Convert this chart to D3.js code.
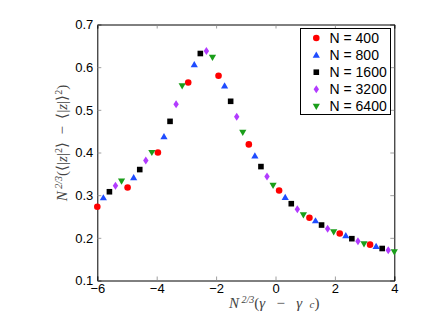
<!DOCTYPE html>
<html><head><meta charset="utf-8">
<script src="https://cdn.jsdelivr.net/npm/d3@7"></script>
<style>
html,body{margin:0;padding:0;background:#fff;}
svg{display:block;}
text{white-space:pre;}
</style></head>
<body>
<svg id="c" width="436" height="328"></svg>
<script>
const seriesNames = ["N = 400","N = 800","N = 1600","N = 3200","N = 6400"];
const seriesColors = ["#ff0000","#1f4cff","#000000","#b23bff","#1a9e1a"];
const seriesShapes = ["circle","triUp","square","diamond","triDown"];

const x400  = [-6.000,-4.980,-3.959,-2.939,-1.918,-0.898,0.122,1.143,2.163,3.184];
const y400  = [0.273,0.318,0.400,0.564,0.580,0.419,0.311,0.247,0.210,0.184];
const x800  = [-5.796,-4.776,-3.755,-2.735,-1.714,-0.694,0.327,1.347,2.367,3.388];
const y800  = [0.294,0.341,0.437,0.606,0.556,0.392,0.295,0.240,0.205,0.180];
const x1600 = [-5.592,-4.571,-3.551,-2.531,-1.510,-0.490,0.531,1.551,2.571,3.592];
const y1600 = [0.308,0.360,0.473,0.632,0.520,0.367,0.280,0.230,0.198,0.175];
const x3200 = [-5.388,-4.367,-3.347,-2.327,-1.306,-0.286,0.735,1.755,2.776,3.796];
const y3200 = [0.322,0.381,0.513,0.638,0.484,0.344,0.267,0.221,0.192,0.171];
const x6400 = [-5.184,-4.163,-3.143,-2.122,-1.102,-0.082,0.939,1.959,2.980,4.000];
const y6400 = [0.333,0.400,0.556,0.623,0.447,0.323,0.254,0.214,0.186,0.167];

const xTicks = [-6,-4,-2,0,2,4];
const yTicks = [0.1,0.2,0.3,0.4,0.5,0.6,0.7];

const seriesX = [x400,x800,x1600,x3200,x6400];
const seriesY = [y400,y800,y1600,y3200,y6400];

const svg = d3.select("#c");
const L = 97.3, R = 394.3, T = 24.5, B = 280.5;
const x = d3.scaleLinear().domain([-6,4]).range([L,R]);
const y = d3.scaleLinear().domain([0.1,0.7]).range([B,T]);

function shapePath(s){
  switch(s){
    case "circle": return d3.symbol(d3.symbolCircle,34)();
    case "square": return "M-2.8,-2.8H2.8V2.8H-2.8Z";
    case "triUp": return "M0,-3.6L3.6,2.6L-3.6,2.6Z";
    case "triDown": return "M0,3.6L3.6,-2.6L-3.6,-2.6Z";
    case "diamond": return "M0,-4L2.7,0L0,4L-2.7,0Z";
  }
}

const tickFont = "'Liberation Sans', Arial, Helvetica, sans-serif";

const xAxB = d3.axisBottom(x).tickValues(xTicks).tickSize(-4).tickPadding(3).tickFormat(d=>d<0?"\u2212"+Math.abs(d):d);
const xAxT = d3.axisTop(x).tickValues(xTicks).tickSize(-4).tickFormat("");
const yAxL = d3.axisLeft(y).tickValues(yTicks).tickSize(-4).tickPadding(4).tickFormat(d3.format(".1f"));
const yAxR = d3.axisRight(y).tickValues(yTicks).tickSize(-4).tickFormat("");

function style(g){
  g.select(".domain").attr("stroke","#000").attr("stroke-width",1);
  g.selectAll(".tick line").attr("stroke","#888").attr("stroke-width",0.8);
  g.selectAll("text").attr("font-family",tickFont).attr("font-size",13).attr("fill","#000");
}
svg.append("g").attr("transform",`translate(0,${B})`).call(xAxB).call(style);
svg.append("g").attr("transform",`translate(0,${T})`).call(xAxT).call(style);
svg.append("g").attr("transform",`translate(${L},0)`).call(yAxL).call(style);
svg.append("g").attr("transform",`translate(${R},0)`).call(yAxR).call(style);

seriesNames.forEach((nm,i)=>{
  const pts = seriesX[i].map((v,j)=>[v,seriesY[i][j]]);
  svg.append("g").selectAll("path").data(pts).join("path")
    .attr("d",shapePath(seriesShapes[i]))
    .attr("transform",d=>`translate(${x(d[0])},${y(d[1])})`)
    .attr("fill",seriesColors[i]);
});

const lg = svg.append("g");
lg.append("rect").attr("x",300.5).attr("y",28.5).attr("width",90).attr("height",86)
  .attr("fill","#fff").attr("stroke","#000").attr("stroke-width",1);
seriesNames.forEach((nm,i)=>{
  const yy = 38 + i*17.1;
  lg.append("path").attr("d",shapePath(seriesShapes[i])).attr("transform",`translate(316.3,${yy})`).attr("fill",seriesColors[i]);
  lg.append("text").attr("x",329.5).attr("y",yy+5).attr("font-family",tickFont).attr("font-size",14).text(nm);
});

const serif = "'Liberation Serif','Times New Roman',serif";
const NB = "\u00A0";
const xl = svg.append("text").attr("x",229).attr("y",308).attr("font-family",serif).attr("font-size",15).attr("fill","#444");
xl.append("tspan").attr("font-style","italic").text("N");
xl.append("tspan").attr("font-size",10).attr("dy",-5).attr("font-style","italic").text(NB+"2/3");
xl.append("tspan").attr("dy",5).text("(");
xl.append("tspan").attr("font-style","italic").text("γ");
xl.append("tspan").text(NB+NB+NB+"\u2212"+NB+NB+NB);
xl.append("tspan").attr("font-style","italic").text("γ"+NB+NB);
xl.append("tspan").attr("font-size",11).attr("font-style","italic").text("c");
xl.append("tspan").text(")");

const yl = svg.append("text").attr("transform","translate(67,143) rotate(-90)").attr("text-anchor","middle")
  .attr("font-family",serif).attr("font-size",15).attr("fill","#444");
yl.append("tspan").attr("font-style","italic").text("N");
yl.append("tspan").attr("font-size",10).attr("dy",-5).attr("font-style","italic").text(NB+"2/3");
yl.append("tspan").attr("dy",5).text("(\u27E8|");
yl.append("tspan").attr("font-style","italic").text("z");
yl.append("tspan").text("|");
yl.append("tspan").attr("font-size",10).attr("dy",-5).text("2");
yl.append("tspan").attr("dy",5).text("\u27E9"+NB+NB+"\u2212"+NB+NB+"\u27E8|");
yl.append("tspan").attr("font-style","italic").text("z");
yl.append("tspan").text("|\u27E9");
yl.append("tspan").attr("font-size",10).attr("dy",-5).text("2");
yl.append("tspan").attr("dy",5).text(")");
</script>
</body></html>
